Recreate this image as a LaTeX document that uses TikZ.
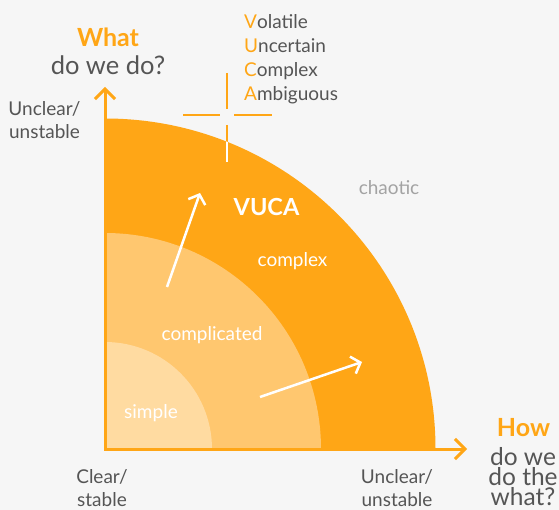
\documentclass[tikz,border=0pt]{standalone}
\usepackage{fontspec}
\setmainfont{Lato}
\usetikzlibrary{arrows.meta}
\definecolor{vorange}{HTML}{FFA616}
\definecolor{vmid}{HTML}{FFC76F}
\definecolor{vlight}{HTML}{FFDBA1}
\definecolor{vbg}{HTML}{F6F6F6}
\definecolor{vtext}{HTML}{555555}
\definecolor{vgrey}{HTML}{A3A3A3}
\tikzset{
  axis/.style={draw=vorange,line width=3pt,
    {Straight Barb[length=10pt,width=20pt]}-{Straight Barb[length=10pt,width=20pt]}},
  drift/.style={draw=white,line width=2.5pt,-{Straight Barb[length=8pt,width=18pt]}},
  crosshair/.style={line width=2.6pt},
  lbl/.style={inner sep=0pt,anchor=base,align=center,text=vtext,
    font=\fontsize{19}{23}\selectfont},
  big/.style={lbl,font=\fontsize{25.5}{20}\selectfont},
  head/.style={inner sep=0pt,anchor=base,text=vorange,
    font=\fontsize{25}{25}\selectfont\bfseries},
  inlbl/.style={lbl,text=white}
}
\begin{document}
\begin{tikzpicture}[x=1pt,y=-1pt]
    \fill[vbg] (0,0) rectangle (559,510);
    \useasboundingbox (0,0) rectangle (559,510);
    \coordinate (O) at (105,449);
    \foreach \r/\c in {330.5/vorange,216/vmid,107/vlight}
        \fill[\c] (O) -- ++(0,-\r) arc[start angle=-90,end angle=0,radius=\r] -- cycle;
    \coordinate (ytip) at (105,87);
    \coordinate (xtip) at (467,449);
    \draw[axis] (ytip) -- (O) -- (xtip);
    \draw[crosshair,vorange] (227,73) -- (227,109) (227,125) -- (227,162)
        (183,115) -- (220,115) (234,115) -- (272,115);
    \begin{scope}
        \clip (O) -- ++(0,-330.5) arc[start angle=-90,end angle=0,radius=330.5] -- cycle;
        \draw[crosshair,white] (227,73) -- (227,109) (227,125) -- (227,162);
    \end{scope}
    \coordinate (up0) at (167,287);
    \coordinate (up1) at (200,193);
    \coordinate (out0) at (260,397);
    \coordinate (out1) at (362,362);
    \draw[drift] (up0) -- (up1);
    \draw[drift] (out0) -- (out1);
    \node[head] (what) at (108,46.7) {What};
    \node[big] (whatq) at (108,75) {do we do?};
    \node[lbl,anchor=base west,align=left,font=\fontsize{19}{24}\selectfont] (vucalist) at (244,101)
        {\textcolor{vorange}{V}olatile\\\textcolor{vorange}{U}ncertain\\\textcolor{vorange}{C}omplex\\\textcolor{vorange}{A}mbiguous};
    \node[lbl] (ytop) at (44.5,139) {Unclear/\\unstable};
    \node[lbl] (xzero) at (102,506) {Clear/\\stable};
    \node[lbl] (xend) at (397,506) {Unclear/\\unstable};
    \node[head] (how) at (523.5,436) {How};
    \node[big,font=\fontsize{24.5}{20}\selectfont] (howq) at (523,505) {do we\\do the\\what?};
    \node[lbl,text=vgrey] (chaotic) at (389,195) {chaotic};
    \node[inlbl,font=\fontsize{23.5}{24}\selectfont\bfseries] (vuca) at (266.5,215.7) {VUCA};
    \node[inlbl] (complex) at (292.5,266.7) {complex};
    \node[inlbl] (complicated) at (212,340.7) {complicated};
    \node[inlbl] (simple) at (151,418) {simple};
\end{tikzpicture}
\end{document}
